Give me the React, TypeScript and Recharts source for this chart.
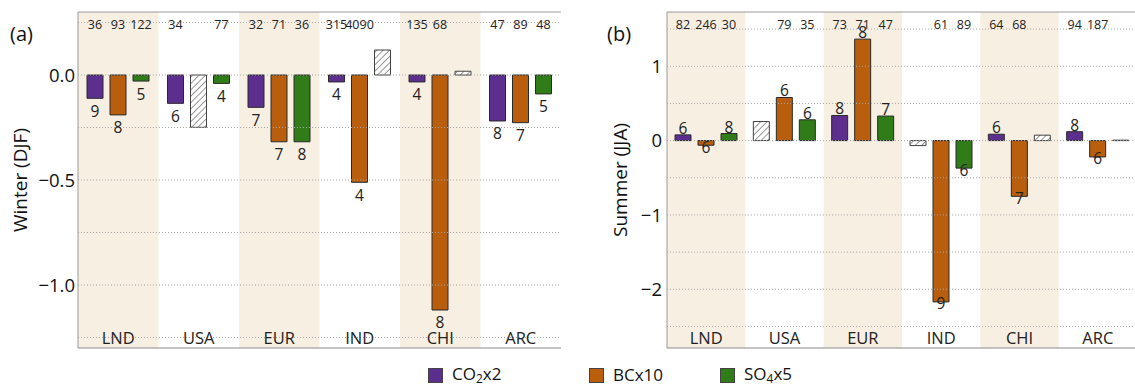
import React from 'react';
import { BarChart, Bar, XAxis, YAxis, Cell, LabelList, ReferenceLine, ReferenceArea } from 'recharts';

const FONT = '"Open Sans", "DejaVu Sans", sans-serif';

// ---------- data ----------
const regions = ['LND', 'USA', 'EUR', 'IND', 'CHI', 'ARC'];
const shadedRegions = ['LND', 'EUR', 'CHI'];

const colorCO2 = '#5c2f8f';
const colorBC = '#b95e0c';
const colorSO4 = '#2f7c18';

// Winter (DJF)
const winterCO2 = [-0.111, -0.135, -0.154, -0.033, -0.033, -0.219];
const winterBC = [-0.19, -0.249, -0.318, -0.511, -1.119, -0.227];
const winterSO4 = [-0.029, -0.04, -0.318, 0.119, 0.018, -0.09];
const winterCO2Hatch = [false, false, false, false, false, false];
const winterBCHatch = [false, true, false, false, false, false];
const winterSO4Hatch = [false, false, false, true, true, false];
const winterCO2Num = [9, 6, 7, 4, 4, 8];
const winterBCNum = [8, null, 7, 4, 8, 7];
const winterSO4Num = [5, 4, 8, null, null, 5];
const winterCO2Top = [36, 34, 32, 315, 135, 47];
const winterBCTop = [93, null, 71, 4090, 68, 89];
const winterSO4Top = [122, 77, 36, null, null, 48];

// Summer (JJA)
const summerCO2 = [0.077, 0.257, 0.338, -0.067, 0.086, 0.12];
const summerBC = [-0.062, 0.58, 1.365, -2.17, -0.75, -0.22];
const summerSO4 = [0.095, 0.28, 0.33, -0.37, 0.073, 0.006];
const summerCO2Hatch = [false, true, false, true, false, false];
const summerBCHatch = [false, false, false, false, false, false];
const summerSO4Hatch = [false, false, false, false, true, true];
const summerCO2Num = [6, null, 8, null, 6, 8];
const summerBCNum = [6, 6, 8, 9, 7, 6];
const summerSO4Num = [8, 6, 7, 6, null, null];
const summerCO2Top = [82, null, 73, null, 64, 94];
const summerBCTop = [246, 79, 71, 61, 68, 187];
const summerSO4Top = [30, 35, 47, 89, null, null];

// axes
const winterDomain: [number, number] = [-1.3, 0.3];
const winterTicks = [0, -0.5, -1.0];
const winterGrid = [0.25, 0, -0.25, -0.5, -0.75, -1.0, -1.25];
const winterMinorTicks = [0.2, 0.1, -0.1, -0.2, -0.3, -0.4, -0.6, -0.7, -0.8, -0.9, -1.1, -1.2];
const winterMajorTicks = [0, -0.5, -1.0];

const summerDomain: [number, number] = [-2.79, 1.73];
const summerTicks = [1, 0, -1, -2];
const summerGrid = [1.5, 1, 0.5, 0, -0.5, -1, -1.5, -2, -2.5];

type Series = {
  key: string;
  color: string;
  values: number[];
  hatched: boolean[];
  nums: (number | null)[];
  tops: (number | null)[];
};

const winterSeries: Series[] = [
  { key: 'co2', color: colorCO2, values: winterCO2, hatched: winterCO2Hatch, nums: winterCO2Num, tops: winterCO2Top },
  { key: 'bc', color: colorBC, values: winterBC, hatched: winterBCHatch, nums: winterBCNum, tops: winterBCTop },
  { key: 'so4', color: colorSO4, values: winterSO4, hatched: winterSO4Hatch, nums: winterSO4Num, tops: winterSO4Top },
];
const summerSeries: Series[] = [
  { key: 'co2', color: colorCO2, values: summerCO2, hatched: summerCO2Hatch, nums: summerCO2Num, tops: summerCO2Top },
  { key: 'bc', color: colorBC, values: summerBC, hatched: summerBCHatch, nums: summerBCNum, tops: summerBCTop },
  { key: 'so4', color: colorSO4, values: summerSO4, hatched: summerSO4Hatch, nums: summerSO4Num, tops: summerSO4Top },
];

const minusFmt = (digits: number) => (v: number) => {
  const s = Math.abs(v).toFixed(digits);
  return v < 0 ? '\u2212' + s : s;
};

const AxisTitle = (props: any) => {
  const { viewBox, text, cx } = props;
  const cy = viewBox ? viewBox.y + viewBox.height / 2 : 180;
  return (
    <text
      x={cx}
      y={cy}
      transform={`rotate(-90 ${cx} ${cy})`}
      textAnchor="middle"
      dominantBaseline="central"
      fontSize={19}
      fontFamily={FONT}
      fill="#111"
    >
      {text}
    </text>
  );
};

type PanelProps = {
  id: string;
  width: number;
  height: number;
  margin: { top: number; right: number; bottom: number; left: number };
  yAxisWidth: number;
  domain: [number, number];
  ticks: number[];
  grid: number[];
  minorTicks?: number[];
  majorTicks?: number[];
  tickFmt: (v: number) => string;
  tickMargin: number;
  title: string;
  titleX: number;
  series: Series[];
  topY: number;
  belowOffset: number;
  aboveOffset: number;
};

function Panel(p: PanelProps) {
  const data = regions.map((r, i) => {
    const row: any = { region: r };
    p.series.forEach((s) => {
      row[s.key] = s.values[i];
    });
    return row;
  });

  const numLabel = (s: Series) => (lp: any) => {
    const { x, y, width, height, index } = lp;
    const n = s.nums[index];
    if (n == null) return null;
    const v = s.values[index];
    const y0 = Number(y);
    const h = Number(height);
    const top = Math.min(y0, y0 + h);
    const bottom = Math.max(y0, y0 + h);
    const cx = Number(x) + Number(width) / 2;
    const ty = v < 0 ? bottom + p.belowOffset : top - p.aboveOffset;
    return (
      <text x={cx} y={ty} textAnchor="middle" dominantBaseline="central" fontSize={15.5} fontFamily={FONT} fill="#222">
        {n}
      </text>
    );
  };

  const topLabel = (s: Series) => (lp: any) => {
    const { x, width, index } = lp;
    const n = s.tops[index];
    if (n == null) return null;
    const cx = Number(x) + Number(width) / 2;
    return (
      <text x={cx} y={p.topY} textAnchor="middle" dominantBaseline="central" fontSize={12.5} fontFamily={FONT} fill="#222">
        {n}
      </text>
    );
  };

  const hatchId = `hatch-${p.id}`;

  return (
    <BarChart width={p.width} height={p.height} data={data} margin={p.margin} barSize={16} barGap={7}>
      <defs>
        <pattern id={hatchId} patternUnits="userSpaceOnUse" width={4.5} height={4.5} patternTransform="rotate(45)">
          <rect width={4.5} height={4.5} fill="#ffffff" />
          <line x1={0} y1={0} x2={0} y2={4.5} stroke="#333" strokeWidth={1} />
        </pattern>
      </defs>
      {shadedRegions.map((r) => (
        <ReferenceArea key={r} x1={r} x2={r} y1={p.domain[0]} y2={p.domain[1]} fill="#f8efe3" fillOpacity={1} stroke="none" />
      ))}
      {p.grid.map((v) => (
        <ReferenceLine key={v} y={v} stroke="#a5a5a5" strokeDasharray="1 2" strokeWidth={1} />
      ))}
      <ReferenceLine y={p.domain[1]} stroke="#9a9a9a" strokeWidth={1} />
      <XAxis
        dataKey="region"
        mirror
        interval={0}
        tickLine={false}
        tickSize={3}
        tickMargin={1}
        axisLine={{ stroke: '#8a8a8a' }}
        tick={{ fontSize: 16.5, fill: '#222', fontFamily: FONT }}
      />
      <YAxis
        type="number"
        domain={p.domain}
        ticks={p.ticks}
        tickFormatter={p.tickFmt}
        allowDataOverflow
        tickLine={false}
        tickSize={0}
        tickMargin={p.tickMargin}
        width={p.yAxisWidth}
        axisLine={{ stroke: '#9a9a9a' }}
        tick={{ fontSize: 18.5, fill: '#111', fontFamily: FONT }}
        label={<AxisTitle text={p.title} cx={p.titleX} />}
      />
      {p.minorTicks && (
        <YAxis
          yAxisId="rmin"
          type="number"
          orientation="right"
          mirror
          width={0}
          domain={p.domain}
          ticks={p.minorTicks}
          allowDataOverflow
          tickSize={4}
          tickFormatter={() => ''}
          axisLine={{ stroke: '#9a9a9a' }}
          tickLine={{ stroke: '#8a8a8a' }}
        />
      )}
      {p.majorTicks && (
        <YAxis
          yAxisId="rmaj"
          type="number"
          orientation="right"
          mirror
          width={0}
          domain={p.domain}
          ticks={p.majorTicks}
          allowDataOverflow
          tickSize={8}
          tickFormatter={() => ''}
          axisLine={false}
          tickLine={{ stroke: '#8a8a8a' }}
        />
      )}
      {p.series.map((s) => (
        <Bar key={s.key} dataKey={s.key} isAnimationActive={false}>
          {s.values.map((v, i) => (
            <Cell
              key={i}
              fill={s.hatched[i] ? `url(#${hatchId})` : s.color}
              stroke={s.hatched[i] ? '#444' : '#2a2a2a'}
              strokeWidth={1}
            />
          ))}
          <LabelList dataKey={s.key} content={numLabel(s)} />
          <LabelList dataKey={s.key} content={topLabel(s)} />
        </Bar>
      ))}
    </BarChart>
  );
}

const legendItems = [
  { color: colorCO2, name: 'CO', sub: '2', rest: 'x2', left: 428 },
  { color: colorBC, name: 'BCx10', sub: '', rest: '', left: 589 },
  { color: colorSO4, name: 'SO', sub: '4', rest: 'x5', left: 720 },
];

export default function App() {
  return (
    <div
      style={{
        position: 'absolute',
        left: 0,
        top: 0,
        width: 1135,
        height: 386,
        overflow: 'hidden',
        background: '#fff',
        fontFamily: FONT,
      }}
    >
      <div style={{ position: 'absolute', left: 10, top: 20, fontSize: 20, color: '#111' }}>(a)</div>
      <div style={{ position: 'absolute', left: 607, top: 20, fontSize: 20, color: '#111' }}>(b)</div>

      <div style={{ position: 'absolute', left: 0, top: 0 }}>
        <Panel
          id="a"
          width={570}
          height={355}
          margin={{ top: 12, right: 9, bottom: 7, left: 0 }}
          yAxisWidth={78}
          domain={winterDomain}
          ticks={winterTicks}
          grid={winterGrid}
          minorTicks={winterMinorTicks}
          majorTicks={winterMajorTicks}
          tickFmt={minusFmt(1)}
          tickMargin={3}
          title="Winter (DJF)"
          titleX={20}
          series={winterSeries}
          topY={24}
          belowOffset={12.5}
          aboveOffset={7}
        />
      </div>

      <div style={{ position: 'absolute', left: 570, top: 0 }}>
        <Panel
          id="b"
          width={570}
          height={355}
          margin={{ top: 12, right: 3, bottom: 7, left: 0 }}
          yAxisWidth={97}
          domain={summerDomain}
          ticks={summerTicks}
          grid={summerGrid}
          tickFmt={minusFmt(0)}
          tickMargin={5}
          title="Summer (JJA)"
          titleX={50}
          series={summerSeries}
          topY={24}
          belowOffset={1.5}
          aboveOffset={7}
        />
      </div>

      {legendItems.map((it) => (
        <div
          key={it.name}
          style={{
            position: 'absolute',
            left: it.left,
            top: 364,
            height: 22,
            display: 'flex',
            alignItems: 'center',
            fontSize: 17,
            lineHeight: '20px',
            color: '#111',
            whiteSpace: 'nowrap',
          }}
        >
          <span
            style={{
              display: 'inline-block',
              width: 15,
              height: 15,
              background: it.color,
              border: '1px solid #444',
              boxSizing: 'border-box',
              marginRight: 9,
            }}
          />
          <span>
            {it.name}
            {it.sub && <span style={{ fontSize: 12, position: 'relative', top: 3 }}>{it.sub}</span>}
            {it.rest}
          </span>
        </div>
      ))}
    </div>
  );
}
